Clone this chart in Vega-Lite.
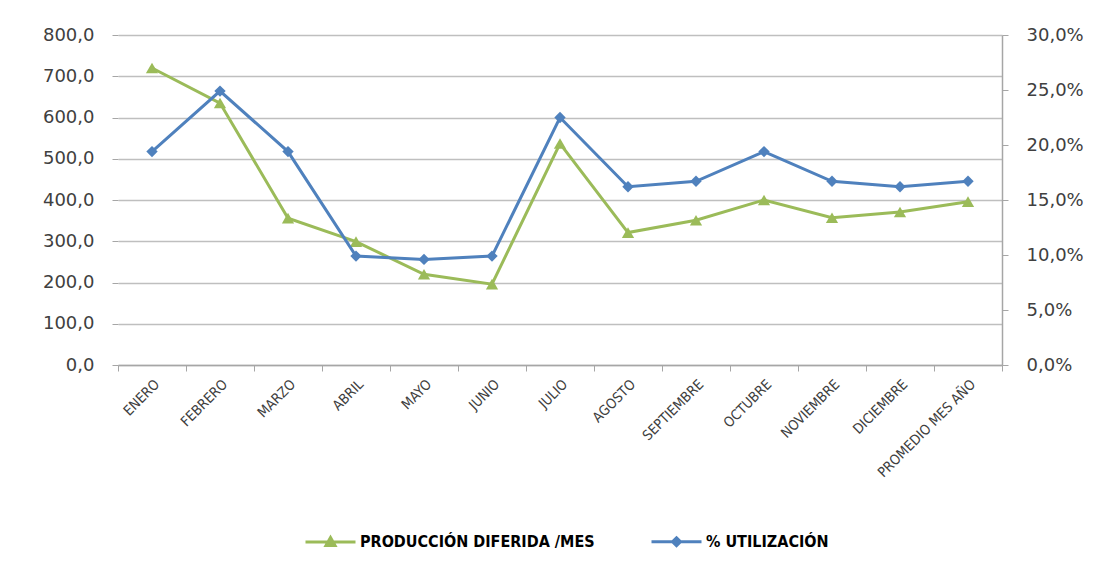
{
  "$schema": "https://vega.github.io/schema/vega-lite/v6.json",
  "width": 884,
  "height": 330,
  "autosize": {"type": "none"},
  "padding": {"left": 118, "top": 35, "right": 110, "bottom": 202},
  "background": "white",
  "config": {
    "view": {"stroke": null},
    "locale": {"number": {"decimal": ",", "thousands": ".", "grouping": [3], "currency": ["", " €"]}},
    "axis": {"labelFont": "DejaVu Sans", "labelColor": "#404040", "titleFont": "DejaVu Sans"}
  },
  "data": {
    "values": [
      {"mes": "ENERO", "prod": 720, "util": 0.194},
      {"mes": "FEBRERO", "prod": 635, "util": 0.249},
      {"mes": "MARZO", "prod": 356, "util": 0.194},
      {"mes": "ABRIL", "prod": 299, "util": 0.099},
      {"mes": "MAYO", "prod": 220, "util": 0.096},
      {"mes": "JUNIO", "prod": 196, "util": 0.099},
      {"mes": "JULIO", "prod": 537, "util": 0.225},
      {"mes": "AGOSTO", "prod": 321, "util": 0.162},
      {"mes": "SEPTIEMBRE", "prod": 351, "util": 0.167},
      {"mes": "OCTUBRE", "prod": 400, "util": 0.194},
      {"mes": "NOVIEMBRE", "prod": 357, "util": 0.167},
      {"mes": "DICIEMBRE", "prod": 371, "util": 0.162},
      {"mes": "PROMEDIO MES AÑO", "prod": 396, "util": 0.167}
    ]
  },
  "encoding": {
    "x": {
      "field": "mes",
      "type": "nominal",
      "sort": null,
      "bandPosition": 0.5,
      "scale": {"type": "band", "paddingInner": 0, "paddingOuter": 0},
      "axis": {
        "title": null,
        "labelAngle": -45,
        "labelFont": "DejaVu Sans Condensed, Liberation Sans",
        "labelFontSize": 14,
        "labelColor": "#404040",
        "labelPadding": 6,
        "tickBand": "extent",
        "tickSize": 6,
        "tickColor": "#A6A6A6",
        "domainColor": "#A6A6A6",
        "domainWidth": 1.5,
        "grid": false
      }
    }
  },
  "layer": [
    {
      "encoding": {
        "y": {
          "field": "prod",
          "type": "quantitative",
          "scale": {"domain": [0, 800], "nice": false, "zero": true},
          "axis": {
            "title": null,
            "orient": "left",
            "values": [0, 100, 200, 300, 400, 500, 600, 700, 800],
            "format": ".1f",
            "labelFontSize": 18,
            "labelPadding": 18,
            "domain": false,
            "ticks": true,
            "tickSize": 6,
            "tickColor": "#A6A6A6",
            "grid": true,
            "gridColor": "#BFBFBF",
            "gridWidth": 1.5
          }
        }
      },
      "layer": [
        {
          "mark": {"type": "line", "strokeWidth": 3},
          "encoding": {
            "color": {
              "datum": "PRODUCCIÓN DIFERIDA /MES",
              "scale": {"domain": ["PRODUCCIÓN DIFERIDA /MES", "% UTILIZACIÓN"], "range": ["#9BBB59", "#4F81BD"]},
              "legend": {
                "title": null,
                "orient": "none",
                "legendX": 186,
                "legendY": 480,
                "direction": "horizontal",
                "columnPadding": 50,
                "symbolSize": 2500,
                "symbolStrokeWidth": 3,
                "symbolType": "M-1,0H1",
                "labelFont": "DejaVu Sans Condensed, Liberation Sans",
                "labelFontSize": 16,
                "labelFontWeight": "bold",
                "labelColor": "#000000",
                "labelLimit": 400,
                "labelOffset": 3,
                "encode": {
                  "symbols": {
                    "update": {
                      "shape": [
                        {"test": "datum.value === '% UTILIZACIÓN'", "value": "M-1,0H1M0,-0.16L0.16,0L0,0.16L-0.16,0Z"},
                        {"value": "M-1,0H1M0,-0.18L0.18,0.14L-0.18,0.14Z"}
                      ],
                      "fill": {"scale": "color", "field": "value"}
                    }
                  }
                }
              }
            }
          }
        },
        {
          "mark": {"type": "point", "shape": "triangle-up", "filled": true, "opacity": 1, "size": 150},
          "encoding": {"color": {"datum": "PRODUCCIÓN DIFERIDA /MES"}}
        }
      ]
    },
    {
      "encoding": {
        "y": {
          "field": "util",
          "type": "quantitative",
          "scale": {"domain": [0, 0.3], "nice": false, "zero": true},
          "axis": {
            "title": null,
            "orient": "right",
            "values": [0, 0.05, 0.1, 0.15, 0.2, 0.25, 0.3],
            "format": ".1%",
            "labelFontSize": 18,
            "labelPadding": 18,
            "domain": true,
            "domainColor": "#A6A6A6",
            "domainWidth": 1.5,
            "ticks": true,
            "tickSize": 6,
            "tickColor": "#A6A6A6",
            "grid": false
          }
        }
      },
      "layer": [
        {
          "mark": {"type": "line", "strokeWidth": 3},
          "encoding": {"color": {"datum": "% UTILIZACIÓN"}}
        },
        {
          "mark": {"type": "point", "shape": "diamond", "filled": true, "opacity": 1, "size": 130},
          "encoding": {"color": {"datum": "% UTILIZACIÓN"}}
        }
      ]
    }
  ],
  "resolve": {"scale": {"y": "independent"}}
}
